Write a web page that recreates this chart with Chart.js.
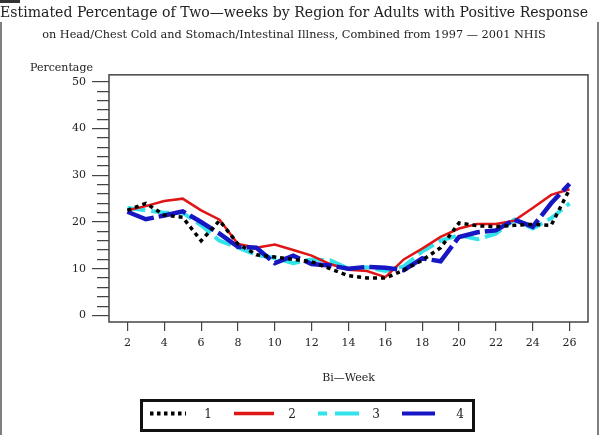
<!DOCTYPE html>
<html>
<head>
<meta charset="utf-8">
<script src="https://cdn.jsdelivr.net/npm/chart.js@4/dist/chart.umd.min.js"></script>
<style>
  html, body { margin: 0; padding: 0; background: #fff; }
  #wrap { width: 603px; height: 435px; }
</style>
</head>
<body>
<div id="wrap"><canvas id="chart" width="603" height="435"></canvas></div>
<script>
// --- DATA ---
const weeks = [2, 3, 4, 5, 6, 7, 8, 9, 10, 11, 12, 13, 14, 15, 16, 17, 18, 19, 20, 21, 22, 23, 24, 25, 26];
const region1 = [22.5, 24, 21.5, 21, 16, 20.3, 15.3, 13, 12.5, 12, 11.5, 10, 8.5, 8, 8, 9.7, 11.8, 14.5, 19.8, 19.2, 19, 19.3, 19.5, 19.3, 27];
const region2 = [22.5, 23.4, 24.5, 25, 22.5, 20.5, 15.3, 14.5, 15.2, 14, 12.8, 11, 9.8, 9.5, 8.2, 12, 14.3, 16.8, 18.6, 19.6, 19.6, 20.3, 23, 25.8, 27];
const region3 = [23, 22.5, 22, 22, 19.3, 16, 14.5, 13, 12.3, 11.2, 12, 11.8, 10, 10.3, 9.5, 10.5, 13.7, 16, 17.2, 16.3, 17.5, 20.5, 18.6, 20.8, 24];
const region4 = [22.2, 20.6, 21.4, 22.3, 20, 17.5, 14.7, 14.5, 11.2, 12.8, 11, 10.7, 10, 10.4, 10.2, 9.7, 12.2, 11.6, 16.8, 17.8, 18.2, 20.5, 19, 24, 28.2];
const regionNames = ['1', '2', '3', '4'];
const xTicks = [2, 4, 6, 8, 10, 12, 14, 16, 18, 20, 22, 24, 26];
const yTicks = [0, 10, 20, 30, 40, 50];
const yMinorStep = 2;

const FONT = 'DejaVu Serif';
const INK = '#222';

function points(values) {
    return weeks.map((w, i) => ({ x: w, y: values[i] }));
}

// --- EXTRA DRAWING: frame, axis caption, boxed legend ---
const framePlugin = {
    id: 'frame',
    beforeDraw(chart) {
        const ctx = chart.ctx;
        ctx.save();
        ctx.strokeStyle = '#555';
        ctx.lineWidth = 1.5;
        ctx.beginPath();
        ctx.moveTo(1, 22); ctx.lineTo(1, 435);
        ctx.moveTo(598, 22); ctx.lineTo(598, 435);
        ctx.stroke();
        ctx.fillStyle = '#333';
        ctx.fillRect(0, 0, 20, 3);
        ctx.restore();
    },
    afterDraw(chart) {
        const { ctx, chartArea: a } = chart;
        ctx.save();
        ctx.strokeStyle = '#444';
        ctx.lineWidth = 1.5;
        ctx.strokeRect(a.left, a.top, a.right - a.left, a.bottom - a.top);

        ctx.fillStyle = INK;
        ctx.font = `11px "${FONT}"`;
        ctx.textAlign = 'left';
        ctx.textBaseline = 'middle';
        ctx.fillText('Percentage', 30, 68);

        // legend box
        const lx = 141.5, ly = 400.5, lw = 332, lh = 30;
        ctx.lineWidth = 3;
        ctx.strokeStyle = '#111';
        ctx.strokeRect(lx, ly, lw, lh);
        const cy = ly + lh / 2 - 2;
        chart.data.datasets.forEach((ds, i) => {
            const x0 = lx + 8.5 + i * 84;
            ctx.save();
            ctx.strokeStyle = ds.borderColor;
            ctx.lineWidth = ds.legendWidth;
            ctx.setLineDash(ds.legendDash);
            ctx.beginPath();
            ctx.moveTo(x0, cy);
            ctx.lineTo(x0 + ds.legendLength, cy);
            ctx.stroke();
            ctx.restore();
            ctx.fillStyle = INK;
            ctx.font = `12px "${FONT}"`;
            ctx.textAlign = 'center';
            ctx.fillText(ds.label, x0 + 58, cy + 1);
        });
        ctx.restore();
    }
};

new Chart(document.getElementById('chart'), {
    type: 'line',
    data: {
        datasets: [
            {
                label: regionNames[0], data: points(region1),
                borderColor: '#000', borderWidth: 3.5, borderDash: [4, 4],
                legendDash: [3.5, 3.5], legendWidth: 4, legendLength: 36, order: 0
            },
            {
                label: regionNames[1], data: points(region2),
                borderColor: '#e01515', borderWidth: 2.5, borderDash: [],
                legendDash: [], legendWidth: 3.5, legendLength: 40, order: 2
            },
            {
                label: regionNames[2], data: points(region3),
                borderColor: '#33e3ea', borderWidth: 4, borderDash: [18, 6],
                legendDash: [9, 8, 24, 100], legendWidth: 4, legendLength: 41, order: 3
            },
            {
                label: regionNames[3], data: points(region4),
                borderColor: '#1616c4', borderWidth: 4.5, borderDash: [28, 5],
                legendDash: [], legendWidth: 4, legendLength: 33, order: 1
            }
        ]
    },
    options: {
        responsive: false,
        animation: false,
        layout: { padding: { left: 0, right: 15, top: 0, bottom: 50 } },
        elements: { point: { radius: 0 }, line: { tension: 0 } },
        plugins: {
            legend: { display: false },
            tooltip: { enabled: false },
            title: {
                display: true,
                text: 'Estimated Percentage of Two\u2014weeks by Region for Adults with Positive Response',
                color: INK,
                font: { family: FONT, size: 14.4, weight: 'normal' },
                padding: { top: 5, bottom: 2 }
            },
            subtitle: {
                display: true,
                text: 'on Head/Chest Cold and Stomach/Intestinal Illness, Combined from 1997 \u2014 2001 NHIS',
                color: INK,
                font: { family: FONT, size: 11.3 },
                padding: { top: 4, bottom: 33 }
            }
        },
        scales: {
            x: {
                type: 'linear',
                min: 1,
                max: 27,
                afterBuildTicks: (scale) => { scale.ticks = xTicks.map(v => ({ value: v })); },
                afterFit: (scale) => { scale.height = 63; },
                border: { display: false },
                grid: { drawOnChartArea: false, tickLength: 9, color: '#444', lineWidth: 1.2 },
                ticks: { autoSkip: false, maxRotation: 0, padding: 6, color: INK, font: { family: FONT, size: 11 } },
                title: {
                    display: true, text: 'Bi\u2014Week', color: INK,
                    font: { family: FONT, size: 11 }, padding: { top: 0, bottom: 0 }
                }
            },
            y: {
                min: -1.4,
                max: 51.5,
                afterBuildTicks: (scale) => {
                    const ticks = [];
                    for (let v = yTicks[0]; v <= yTicks[yTicks.length - 1]; v += yMinorStep) ticks.push({ value: v });
                    scale.ticks = ticks;
                },
                afterFit: (scale) => { scale.width = 109; },
                border: { display: false },
                grid: {
                    drawOnChartArea: false, tickLength: 17, color: '#444', lineWidth: 1.2,
                    // minor ticks are drawn shorter by skipping their outer part
                    tickBorderDash: (c) => yTicks.includes(c.tick && c.tick.value) ? [] : [0, 5, 100, 0]
                },
                ticks: {
                    autoSkip: false, padding: 6, color: INK, font: { family: FONT, size: 11 },
                    callback: (v) => yTicks.includes(v) ? v : ''
                }
            }
        }
    },
    plugins: [framePlugin]
});
</script>
</body>
</html>
